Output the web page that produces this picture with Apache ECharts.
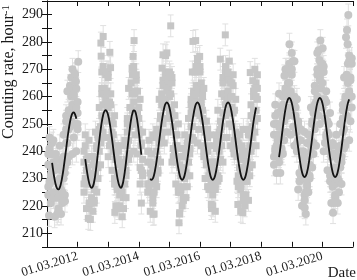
<!DOCTYPE html>
<html><head><meta charset="utf-8">
<script src="https://cdn.jsdelivr.net/npm/echarts@6/dist/echarts.min.js"></script>
<style>html,body{margin:0;padding:0;background:#fff}#c{width:357px;height:280px}</style>
</head><body><div id="c"></div>
<script>
// Time axis: years after 01.03.2011. Samples every half month.
const halfMonth = 1 / 24;
const tickLabelYears = [1, 3, 5, 7, 9];
const tickLabels = ['01.03.2012', '01.03.2014', '01.03.2016', '01.03.2018', '01.03.2020'];
const rateError = 4; // error bar half-length, hour^-1

// Measurements (circles: 2011-2012 and 2018-2021, squares: 2012-2018), four readings per half month
const seg1Start = 1;
const rate1a = [224,229,221,235,225,216,223,229,218,226,217,237,230,224,243,238,238,255,251,239,245,250,240,250];
const rate1b = [239,245,235,243,244,234,239,217,234,242,233,225,246,238,251,262,255,249,267,257,260,266,254,258];
const rate1c = [235,228,239,233,236,224,229,234,223,230,226,236,234,232,248,243,251,249,260,263,261,254,263,248];
const rate1d = [227,241,231,239,223,233,224,237,219,228,234,221,238,234,253,236,248,264,254,270,254,268,256,254];
const seg2Start = 29;
const rate2a = [225,230,219,230,221,215,222,230,221,231,225,246,240,235,253,247,245,259,253,238,242,245,233,242,230,220,226,232,219,226,216,235,228,223,242,239,239,256,252,240,246,250,239,248,228,221,231];
const rate2b = [240,246,233,238,244,231,238,218,237,247,241,234,256,249,261,271,262,253,269,256,257,261,247,250,253,238,242,219,235,242,232,223,244,237,250,263,256,250,268,258,261,266,253,256,259,243,247];
const rate2c = [236,229,237,228,232,221,228,235,226,235,234,245,244,243,263,257,263,253,262,267,258,244,251,240,241,228,232,237,224,230,225,234,232,231,247,244,252,250,261,269,262,254,262,246,247,233,237];
const rate2d = [228,242,229,234,219,230,223,238,222,233,242,230,248,245,269,251,261,268,256,269,251,257,243,246,228,237,227,240,220,228,233,219,236,233,252,237,249,265,255,271,255,268,255,252,234,242,232];
const seg3Start = 79;
const rate3a = [225,228,218,231,223,217,229,240,232,243,236,257,250,243,259,252,247,260,252,236,238,241,228,238,227,217,225,233,222,230,223,243,236,231,249,245,244,260,255,243,248,253,242,252,240,230,235,240,226,230,219,236,226,218,236,231,230,248,245,236,245,253,245,259,250,242,249,254,239,243,229,243,230,218,232,224,220,235,232,222,231,241,235,252,247,242,252];
const rate3b = [240,244,232,239,246,235,245,227,248,259,252,245,266,257,267,276,264,254,268,254,253,257,242,246,250,235,241,220,238,246,239,231,252,245,257,269,261,254,271,261,263,269,256,260,263,248,251,227,242,246,235,224,242,232,244,255,247,242,261,254,260,269,259,267,273,260,265,241,255,259,245,231,246,232,240,248,237,229,248,240,246,257,249,260,270,260,268];
const rate3c = [236,227,236,229,234,225,235,245,237,247,245,261,259,256,269,262,265,254,261,265,249,240,246,236,238,225,231,238,227,234,232,242,240,239,254,255,262,254,264,272,264,257,265,255,251,238,241,245,231,234,228,235,230,226,241,236,243,237,249,265,261,257,268,262,266,255,260,264,244,247,238,242,234,226,237,229,233,224,236,246,242,240,253,255,263,255,263];
const rate3d = [228,240,228,235,221,234,230,248,233,245,253,247,264,259,275,256,263,269,255,267,241,253,238,242,225,234,226,241,223,232,240,227,244,241,259,249,260,269,258,274,257,271,258,262,238,247,236,248,227,232,236,220,234,228,246,229,240,251,242,267,254,271,261,269,254,265,256,268,240,245,246,227,238,228,242,222,230,238,229,247,234,253,245,262,251,265,259];
const seg4Start = 178;
const rate4a = [235,241,232,246,238,232,240,252,244,254,247,265,256,246,260,249,242,253,243,226,229,232,220,232,224,217,227,238,230,240,234,255,248,242,260,253,250,263,256,240,243,246,233,242,231,221,227,234,223,230,221,241,234,228,247,243,242,259,256,244,251,256];
const rate4b = [250,257,246,254,261,250,256,239,260,270,263,253,272,260,268,273,259,247,259,244,244,248,234,240,247,235,243,225,246,256,250,243,264,256,268,277,267,257,272,258,258,262,247,250,254,239,243,221,239,246,237,229,250,242,255,267,259,253,272,262,266,272];
const rate4c = [246,240,250,244,249,240,246,257,254,263,261,269,265,259,270,259,260,242,247,250,240,231,238,230,235,225,233,243,235,244,243,254,257,255,270,263,268,257,265,269,259,245,251,240,242,229,233,239,228,234,230,240,238,236,252,248,260,253,265,273,267,260];
const rate4d = [238,253,242,250,236,249,241,260,251,262,270,255,270,262,276,253,258,256,240,251,232,244,230,236,222,234,228,246,231,242,251,239,262,258,276,257,266,272,259,271,252,258,243,246,229,238,228,242,224,232,238,225,242,238,257,241,258,268,259,275,260,274];

// Isolated readings (outliers with visible error bars)
const extraCircleT = [0.065,0.587,0.913,0.946,1.021,7.760,7.923,8.086,8.422,8.901,8.934,9.009,9.348,9.772,9.804,9.824,9.847];
const extraCircleR = [216.5,221.7,268.4,265.5,272.8,267.6,279.2,272.9,219.3,273.4,280.5,277.7,217.5,281.7,284.4,279.2,289.9];
const extraSquareT = [1.35,1.761,1.77,1.836,2.054,2.077,2.217,2.781,2.814,2.846,3.466,3.760,3.792,4.043,4.314,4.336,4.770,4.858,4.989,5.370,5.664,5.827,6.237,6.400,6.642,6.727];
const extraSquareR = [215.4,279.6,274.8,282.0,276.2,270.6,217.6,270.4,274.7,280.5,216.9,270.4,275.3,285.9,213.8,217.5,280.2,280.5,274.7,220.5,273.7,282.6,220.5,217.5,268.8,265.8];

// Fitted seasonal curves, one value per half month
const fit1Start = 4;
const fit1 = [235.7,232.4,229.6,227.5,226.3,226.0,226.7,228.3,230.7,233.7,237.2,240.8,244.5,247.8,250.6,252.7,253.9,254.2,253.5,251.9];
const fit2Start = 30;
const fit2 = [237.1,233.7,230.8,228.5,227.1,226.6,227.1,228.9,231.8,235.5,239.6,243.8,247.6,250.8,253.2,254.6,255.0,254.5,253.1,250.8,247.9,244.5,240.8,237.1,233.7,230.8,228.5,227.1,226.6,227.4,229.4,232.4,236.2,240.4,244.6,248.5,251.7,253.9,254.9,254.7,253.2,250.6,247.0,243.0,238.7];
const fit3Start = 81;
const fit3 = [230.0,229.5,230.0,231.4,233.7,236.6,240.0,243.7,247.4,250.8,253.7,256.0,257.4,257.9,257.4,
256.0,253.7,250.8,247.4,243.7,240.0,236.6,233.7,231.4,230.0,229.5,230.0,231.4,233.7,236.6,240.0,243.7,247.4,250.8,253.7,256.0,257.4,257.9,257.4,
256.0,253.7,250.8,247.4,243.7,240.0,236.6,233.7,231.4,230.0,229.5,230.0,231.4,233.7,236.6,240.0,243.7,247.4,250.8,253.7,256.0,257.4,257.9,257.4,
256.0,253.7,250.8,247.4,243.7,240.0,236.6,233.7,231.4,230.0,229.5,230.0,231.4,233.7,236.6,240.0,243.7,247.4,250.8,253.7,256.0];
const fit4Start = 182;
const fit4 = [237.8,241.2,245.0,248.8,252.3,255.3,257.6,259.0,259.5,259.0,
257.6,255.3,252.3,248.8,245.0,241.2,237.8,234.7,232.4,231.0,230.5,231.0,232.4,234.7,237.8,241.2,245.0,248.8,252.3,255.3,257.6,259.0,259.5,259.0,
257.6,255.3,252.3,248.8,245.0,241.2,237.8,234.7,232.4,231.0,230.5,231.0,232.4,234.7,237.8,241.2,245.0,248.8,252.3,255.3,257.6,259.0];

function samples(start, lists) {
  const out = [];
  for (let i = 0; i < lists[0].length; i++) {
    const t = (start + i) * halfMonth;
    lists.forEach(l => out.push([t, l[i]]));
  }
  return out;
}
function zipPts(ts, vs) { return ts.map((t, i) => [t, vs[i]]); }
function fitLine(start, vals) { return vals.map((v, i) => [(start + i) * halfMonth, v]); }

const circles = [].concat(
  samples(seg1Start, [rate1a, rate1b, rate1c, rate1d]),
  samples(seg4Start, [rate4a, rate4b, rate4c, rate4d]),
  zipPts(extraCircleT, extraCircleR));
const squares = [].concat(
  samples(seg2Start, [rate2a, rate2b, rate2c, rate2d]),
  samples(seg3Start, [rate3a, rate3b, rate3c, rate3d]),
  zipPts(extraSquareT, extraSquareR));

const serif = '"Liberation Serif", "Times New Roman", serif';
const pointColor = '#c6c6c6';
const errColor = '#e0e0e0';

function errItem(params, api) {
  const t = api.value(0), r = api.value(1);
  const p1 = api.coord([t, r + rateError]);
  const p2 = api.coord([t, r - rateError]);
  const w = 3;
  const st = { stroke: errColor, lineWidth: 1 };
  return { type: 'group', children: [
    { type: 'line', shape: { x1: p1[0], y1: p1[1], x2: p2[0], y2: p2[1] }, style: st },
    { type: 'line', shape: { x1: p1[0] - w, y1: p1[1], x2: p1[0] + w, y2: p1[1] }, style: st },
    { type: 'line', shape: { x1: p2[0] - w, y1: p2[1], x2: p2[0] + w, y2: p2[1] }, style: st }
  ]};
}

const axisLine = { show: true, lineStyle: { color: '#111', width: 1 } };
const tickStyle = { show: true, inside: true, length: 5, lineStyle: { color: '#111', width: 1 } };

const lineSeries = [[fit1Start, fit1], [fit2Start, fit2], [fit3Start, fit3], [fit4Start, fit4]].map(([s, v]) => ({
  type: 'line', data: fitLine(s, v), smooth: true, showSymbol: false, z: 5,
  lineStyle: { color: '#141414', width: 1.8 }, silent: true
}));

const chart = echarts.init(document.getElementById('c'));
chart.setOption({
  animation: false,
  backgroundColor: '#fff',
  grid: { left: 47, right: 4, top: 1, bottom: 32 },
  xAxis: [
    { type: 'value', min: 0, max: 10, interval: 1, position: 'bottom',
      axisLine, axisTick: tickStyle, splitLine: { show: false },
      axisLabel: { rotate: 17, margin: 9, fontFamily: serif, fontSize: 13, color: '#1a1a1a',
        formatter: v => { const k = tickLabelYears.indexOf(Math.round(v)); return k >= 0 ? tickLabels[k] : ''; } } },
    { type: 'value', min: 0, max: 10, interval: 1, position: 'top',
      axisLine, axisTick: tickStyle, splitLine: { show: false }, axisLabel: { show: false } }
  ],
  yAxis: [
    { type: 'value', min: 205, max: 295, interval: 5, position: 'left',
      axisLine, axisTick: tickStyle, splitLine: { show: false },
      axisLabel: { margin: 4, fontFamily: serif, fontSize: 14, color: '#1a1a1a',
        formatter: v => (v % 10 === 0 ? String(v) : '') } },
    { type: 'value', min: 205, max: 295, interval: 5, position: 'right',
      axisLine, axisTick: tickStyle, splitLine: { show: false }, axisLabel: { show: false } }
  ],
  series: [
    { type: 'custom', renderItem: errItem, data: circles.concat(squares), z: 1, silent: true, clip: true },
    { type: 'scatter', data: circles, symbol: 'circle', symbolSize: 8, z: 2, silent: true,
      itemStyle: { color: pointColor, opacity: 1 } },
    { type: 'scatter', data: squares, symbol: 'rect', symbolSize: 7, z: 2, silent: true,
      itemStyle: { color: pointColor, opacity: 1 } }
  ].concat(lineSeries),
  graphic: [
    { type: 'text', x: 9, y: 72, rotation: Math.PI / 2,
      style: { text: 'Counting rate, hour{s|-1}', fontFamily: serif, fontSize: 16, fill: '#1a1a1a',
        align: 'center', verticalAlign: 'middle', textAlign: 'center', textVerticalAlign: 'middle',
        rich: { s: { fontFamily: serif, fontSize: 11, verticalAlign: 'top', fill: '#1a1a1a' } } } },
    { type: 'text', x: 356, y: 281,
      style: { text: 'Date', fontFamily: serif, fontSize: 15, fill: '#1a1a1a',
        align: 'right', verticalAlign: 'bottom', textAlign: 'right', textVerticalAlign: 'bottom' } }
  ]
});
</script>
</body></html>
